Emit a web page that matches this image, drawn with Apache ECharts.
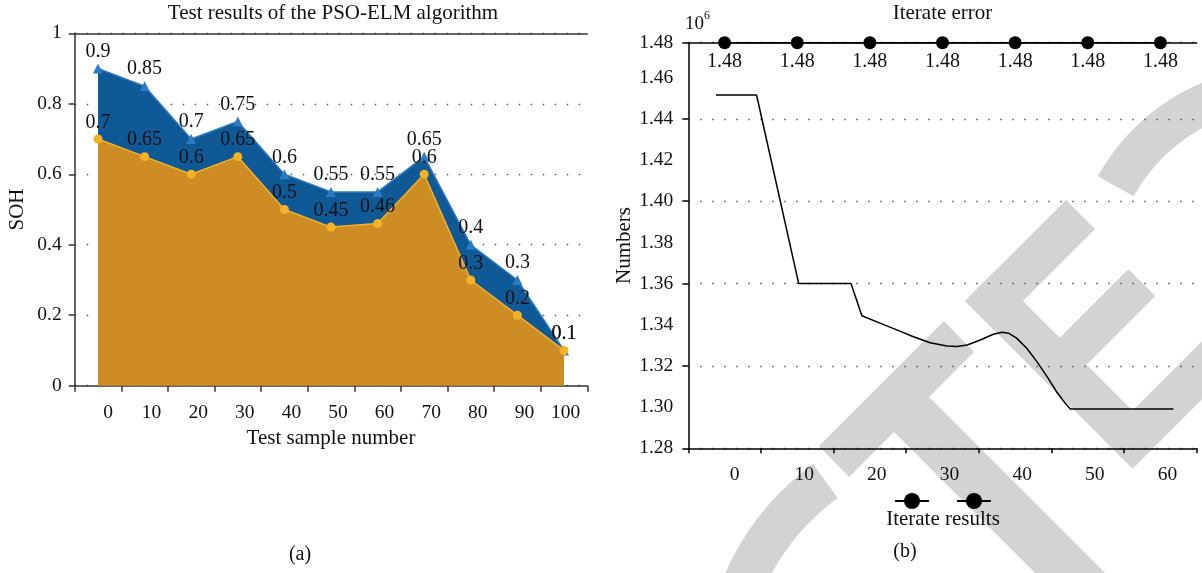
<!DOCTYPE html>
<html><head><meta charset="utf-8">
<script src="https://cdn.jsdelivr.net/npm/echarts@6/dist/echarts.min.js"></script>
<style>html,body{margin:0;padding:0;background:#fff}#c{width:1202px;height:573px}</style>
</head><body><div id="c"></div>
<script>
// ---- data ----
const sampleNumbers = ['0','10','20','30','40','50','60','70','80','90','100'];
const predictedSOH = [0.9,0.85,0.7,0.75,0.6,0.55,0.55,0.65,0.4,0.3,0.1];
const actualSOH = [0.7,0.65,0.6,0.65,0.5,0.45,0.46,0.6,0.3,0.2,0.1];
const iterCategories = ['0','10','20','30','40','50','60'];
const iterX = [-1.2,4.4,10.2,17.4,18.9,21.4,23.7,26.0,28.3,30.6,32.0,33.4,35.2,37.0,38.2,39.1,40.2,41.6,43.0,44.4,45.7,46.9,47.6,61.8];
const iterY = [1.4516,1.4516,1.3600,1.3600,1.3444,1.3408,1.3375,1.3342,1.3313,1.3297,1.3294,1.3302,1.3326,1.3354,1.3364,1.3359,1.3335,1.3286,1.3221,1.3148,1.3075,1.3019,1.2991,1.2991];
const errorX = [0,10,20,30,40,50,60];
const errorY = [1.48,1.48,1.48,1.48,1.48,1.48,1.48];

const F = 'Liberation Serif';
const TXT = '#111';
const NUM = 19.5;
const chart = echarts.init(document.getElementById('c'), null, {renderer:'canvas'});

const shiftLabel = v => '{p' + v.length + '|' + v + '}';
const rich = {
  p1:{padding:[0,0,0,20], fontSize:NUM, fontFamily:F, color:TXT},
  p2:{padding:[0,0,0,14], fontSize:NUM, fontFamily:F, color:TXT},
  p3:{padding:[0,0,0,3], fontSize:NUM, fontFamily:F, color:TXT}
};
const axA = {color:'#333', width:1.5};
const axB = {color:'#000', width:1.5};
const dotted = {type:[1.5,10.5], color:'#555', width:1.3};
const nameStyle = {fontSize:21, fontFamily:F, color:TXT};
const labelStyle = {fontSize:20, fontFamily:F, color:TXT};

// watermark geometry (decoration, not data)
const R2 = Math.SQRT1_2;
const du = (d,u) => [965 + (d+u)*R2, 301 + (d-u)*R2];
const rect = (d0,d1,u0,u1) => [du(d0,u0),du(d1,u0),du(d1,u1),du(d0,u1)];
const WM = '#d3d3d3';
const wm = [
  {type:'sector', z:-10, silent:true, shape:{cx:970, cy:680, r0:225, r:267, startAngle:Math.PI, endAngle:234*Math.PI/180, clockwise:true}, style:{fill:WM}},
  {type:'sector', z:-10, silent:true, shape:{cx:1285, cy:280, r0:173, r:214, startAngle:209*Math.PI/180, endAngle:320*Math.PI/180, clockwise:true}, style:{fill:WM}},
  {type:'polygon', z:-10, silent:true, shape:{points:[[819,446],[944,321],[974,352],[929,397],[1132,600],[1062,600],[894,432],[849,477]]}, style:{fill:WM}},
  {type:'polygon', z:-10, silent:true, shape:{points:rect(0,237,0,41)}, style:{fill:WM}},
  {type:'polygon', z:-10, silent:true, shape:{points:rect(0,41,0,143)}, style:{fill:WM}},
  {type:'polygon', z:-10, silent:true, shape:{points:rect(93,131,0,138)}, style:{fill:WM}},
  {type:'polygon', z:-10, silent:true, shape:{points:rect(196,237,0,260)}, style:{fill:WM}}
];
const txt = (text, x, y, size, align) => ({type:'text', x, y, silent:true, z:5,
  style:{text, fontSize:size, fontFamily:F, fill:TXT, align:align||'center', verticalAlign:'middle', textAlign:align||'center', textVerticalAlign:'middle'}});

const option = {
  backgroundColor:'#fff',
  animation:false,
  grid:[
    {left:74.7, top:33.3, width:512.6, height:352.4, outerBoundsMode:'none', containLabel:false},
    {left:688.3, top:42.7, width:508.4, height:405.6, outerBoundsMode:'none', containLabel:false}
  ],
  legend:{
    data:['Iterate error','Iterate results'], formatter:() => '', left:889, top:486,
    itemWidth:34, itemHeight:20, itemGap:26, selectedMode:false, textStyle:{fontSize:12}
  },
  xAxis:[
    {type:'category', gridIndex:0, data:sampleNumbers, boundaryGap:true, position:'bottom',
     axisLine:{onZero:false, lineStyle:axA},
     axisTick:{show:true, interval:0, length:6, lineStyle:axA},
     axisLabel:{interval:0, margin:17, formatter:shiftLabel, rich},
     splitLine:{show:false},
     name:'Test sample number', nameLocation:'middle', nameGap:31, nameTextStyle:nameStyle},
    {type:'value', gridIndex:0, position:'top', min:0, max:1,
     axisLine:{show:true, onZero:false, lineStyle:axA}, axisTick:{show:false}, axisLabel:{show:false}, splitLine:{show:false}},
    {type:'category', gridIndex:1, data:iterCategories, boundaryGap:true, position:'bottom',
     axisLine:{onZero:false, lineStyle:axB},
     axisTick:{show:true, interval:0, length:5, lineStyle:axB},
     axisLabel:{interval:0, margin:17, formatter:shiftLabel, rich},
     splitLine:{show:false}},
    {type:'value', gridIndex:1, min:-5, max:65, show:false,
     axisLine:{onZero:false}, splitLine:{show:false}},
    {type:'value', gridIndex:1, position:'top', min:0, max:1,
     axisLine:{show:true, onZero:false, lineStyle:axB}, axisTick:{show:false}, axisLabel:{show:false}, splitLine:{show:false}}
  ],
  yAxis:[
    {type:'value', gridIndex:0, position:'left', min:0, max:1, interval:0.2,
     axisLine:{show:true, onZero:false, lineStyle:axA},
     axisTick:{show:true, length:6, lineStyle:axA},
     axisLabel:{margin:13, fontSize:NUM, fontFamily:F, color:TXT, formatter:v => String(+v.toFixed(1))},
     splitLine:{show:true, lineStyle:dotted},
     name:'SOH', nameLocation:'middle', nameGap:47, nameTextStyle:nameStyle},
    {type:'value', gridIndex:1, position:'left', min:1.28, max:1.477, interval:0.02,
     axisLine:{show:true, onZero:false, lineStyle:axB},
     axisTick:{show:false},
     axisLabel:{margin:15, fontSize:NUM, fontFamily:F, color:TXT, showMaxLabel:true, showMinLabel:true, formatter:v => v.toFixed(2)},
     splitLine:{show:false},
     name:'Numbers', nameLocation:'middle', nameGap:53, nameTextStyle:nameStyle},
    {type:'value', gridIndex:1, position:'left', min:1.28, max:1.477, interval:0.04,
     axisLine:{show:false, onZero:false},
     axisTick:{show:true, length:6, lineStyle:axB},
     axisLabel:{show:false},
     splitLine:{show:true, lineStyle:dotted}},
    {type:'value', gridIndex:1, position:'left', min:1.28, max:1.48, show:false,
     axisLine:{onZero:false}, splitLine:{show:false}}
  ],
  series:[
    {name:'Predicted', type:'line', xAxisIndex:0, yAxisIndex:0, data:predictedSOH, z:2,
     symbol:'triangle', symbolSize:10, itemStyle:{color:'#2b7cc4'}, lineStyle:{color:'#2b7cc4', width:1.5},
     areaStyle:{color:'#0e5996', opacity:1},
     label:Object.assign({show:true, position:'top', distance:2}, labelStyle)},
    {name:'Actual', type:'line', xAxisIndex:0, yAxisIndex:0, data:actualSOH, z:3,
     symbol:'circle', symbolSize:9, itemStyle:{color:'#f7b125'}, lineStyle:{color:'#f7b125', width:1.5},
     areaStyle:{color:'#cd8c24', opacity:1},
     label:Object.assign({show:true, position:'top', distance:2}, labelStyle)},
    {name:'Iterate error', type:'line', xAxisIndex:3, yAxisIndex:3, clip:false, z:4,
     data:errorX.map((x,i) => [x, errorY[i]]),
     symbol:'circle', symbolSize:13, itemStyle:{color:'#000'}, lineStyle:{color:'#000', width:1.5},
     label:Object.assign({show:true, position:'bottom', distance:3, formatter:p => p.value[1].toFixed(2)}, labelStyle)},
    {name:'Iterate results', type:'line', xAxisIndex:3, yAxisIndex:1, z:4,
     data:iterX.map((x,i) => [x, iterY[i]]),
     symbol:'circle', symbolSize:13, showSymbol:false, itemStyle:{color:'#000'}, lineStyle:{color:'#000', width:1.5}}
  ],
  graphic:{elements:[
    ...wm,
    txt('Test results of the PSO-ELM algorithm', 333, 13, 21),
    txt('Iterate error', 942.5, 13, 21),
    txt('Iterate results', 943, 519, 21),
    txt('(a)', 300, 555, 20),
    txt('(b)', 905, 552, 20),
    txt('10', 685, 24, 19, 'left'),
    txt('6', 704, 16, 12, 'left')
  ]}
};
chart.setOption(option);
</script>
</body></html>
